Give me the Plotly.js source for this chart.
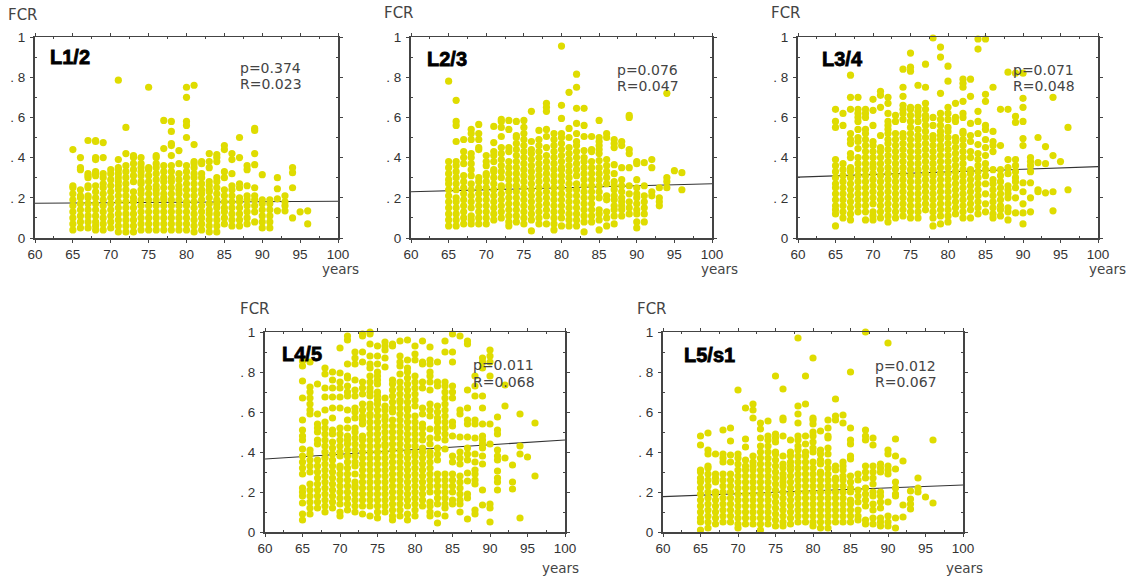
<!DOCTYPE html>
<html><head><meta charset="utf-8">
<script src="https://cdn.plot.ly/plotly-3.0.1.min.js"></script>
<style>html,body{margin:0;padding:0;background:#fff}#c{width:1130px;height:577px}
.annotation-text[data-unformatted^="<b>"]{stroke:#000;stroke-width:.8px}</style>
</head><body><div id="c"></div>
<script>
// FCR values in hundredths, listed per age in years
const L12 = {
65:[4,7,10,13,16,19,22,25,26,44],
66:[5,8,11,14,17,20,21,24,34,35,40],
67:[5,8,11,14,17,20,21,25,26,30,31,32,48.5],
68:[4,6,8,11,14,17,20,23,26,31,32,33,39,40,48,48.5],
69:[4,7,10,13,16,19,22,25,27,30,32,40,47.5],
70:[5,8,11,14,17,20,23,26,29,32,34],
71:[3,6,9,12,15,18,21,24,26,28,30,32,34,35,39,78.5],
72:[3,6,9,12,15,18,21,24,27,30,33,36,42,55],
73:[3,6,9,12,15,18,20,23,28,31,34,37,40,41],
74:[4,7,10,13,16,19,22,24,27,28,31,33,35,37,40],
75:[4,7,10,13,16,19,22,25,28,31,34,35,75],
76:[4,7,10,13,16,19,22,24,26,29,32,35,37,40,41],
77:[4,7,10,13,16,19,20,22,25,28,30,33,36,44.5,58.5],
78:[4,7,10,13,16,19,22,25,28,30,33,36,41,46,47,53,58],
79:[4,7,10,13,16,19,22,24,26,29,32,37,43.5],
80:[4,7,10,13,16,18,21,24,27,30,33,36,50,56,58,70,75],
81:[3,6,9,12,15,18,21,24,27,30,32,35,37,38,46.5,76],
82:[4,7,10,13,16,19,22,24,27,30,32,37,38],
83:[3,6,9,12,14,17,20,23,24,26,28,35,38,42],
84:[3,6,9,12,15,17,19,22,25,28,30,38,40,41.5],
85:[7,10,13,15,18,21,24,30,33,44,46],
86:[6,9,12,15,18,21,24,26,32,39,42],
87:[6,9,12,15,18,20,25,27,40,50],
88:[7,10,13,16,19,21,26,34,36],
89:[8,13,16,19,21,25,36.5,42,53.5,54.5],
90:[5,8,11,14,17,19,31.5],
91:[5,8,11,14,17,19],
92:[13.5,19.5,24.5,30],
93:[13.5,16,18,21],
94:[10,25,32.5,35],
95:[13],
96:[7,13.5]};
const L23 = {
65:[6,9,12,15,18,21,24,27,29,32,35,38,78],
66:[6,9,12,15,18,20,24,27,30,33,36,38,48,56,58,68.5],
67:[7,10,13,16,19,22,25,28,31,37,40,43,49],
68:[7,9,11,15,18,21,24,27,31,34,37,40,42,49,52,54],
69:[7,10,13,16,19,22,25,28,30,44,45,49,52,56.5],
70:[7,10,13,16,19,22,25,28,31,32,36,38,41],
71:[9,12,15,18,21,24,27,30,33,34,38,41,43,47.5,55.5],
72:[10,13,16,19,22,25,26,30,33,36,39,42,45,50.5,55,58,59],
73:[6,8,11,14,17,20,23,26,29,32,35,38,43,45,54,58.5],
74:[8,11,14,17,20,23,26,29,32,35,38,41,44,47,50,51,58],
75:[7,10,13,16,19,22,25,28,31,34,37,40,43,46,49,52,55,58.5],
76:[3.5,9,12,15,18,21,24,27,30,33,36,39,42,44,48,63],
77:[7,10,13,16,19,22,25,28,31,34,37,40,43,46,49,53.5],
78:[7,11,14,17,20,23,26,29,32,35,38,41,45,50.5,54,63,65,67],
79:[4,7,10,13,16,19,22,25,28,31,34,37,40,43,46,49,52],
80:[6,10,13,16,19,22,25,28,31,34,35,38,41,44,47,50,52,59.5,66,95.5],
81:[6,9,12,15,18,21,24,27,30,33,36,39,42,45,50,54.5,72.5],
82:[6,9,12,15,18,21,24,27,31,34,37,40,43,46,48,52,57,64.5,75,81.5],
83:[3,8,11,14,17,20,23,26,29,32,35,38,40,43.5,50.5,56,64.5],
84:[8,11,14,17,20,23,26,29,32,35,38,43,44,50.5],
85:[4,9,12,14,20,23,26,29,32,35,38.5,42,44,46,48,50,58.5],
86:[6,10,13,19,21,27,30,33,36,39,50,52],
87:[7,11,14,16,19,21,24,26,28,32,36.5,45,47,49],
88:[11,14,16,18,20,23,26,29,35,46,48],
89:[12,15,18,22,26,35,42,44,60,61],
90:[5,8,12,14,17,20,22,25,29,37,38],
91:[8,12,15,18,21,26,37.5],
92:[21,23,35,39],
93:[16,18,20,25],
94:[25,28,30,72],
95:[33.5],
96:[24,32.5]};
const L34 = {
65:[6,12,14,16,19,22,25,27,30,33,36,39,55,58,64],
66:[10,13,16,19,22,25,28,31,34,37,56,62],
67:[9,12,15,18,21,24,27,30,33,35,40,42,47,49,52,64,70,81],
68:[13,16,19,22,25,28,31,34,37,40,44.5,48,50,54,58,60,62,64,70],
69:[9,13,16,19,22,25,28,31,34,37,40,43,46,49,52,54,60,62,64],
70:[9,11,13,17,20,23,26,29,32,35,37,40,43,46,48,56,63.5,69],
71:[10,13,16,19,22,25,28,31,34,37,40,43,45,51,65,71,73],
72:[8,11,14,17,20,23,26,29,32,35,38,41,44,47,49,52,54,56,58,62,67,70],
73:[10,13,16,19,22,25,28,31,34,37,40,43,46,49,52,58,61],
74:[11,14,17,20,23,26,29,32,35,38,41,44,47,50,52,59,62,64,66,70.5,75,84],
75:[10,13,16,19,22,25,28,31,34,37,40,43,46,49,52,55,58,61,64,65,83,85,92],
76:[10,13,16,19,22,25,28,31,34,37,40,43,46,49,51,54,58,61,63,65,76],
77:[14,17,20,23,26,29,32,35,38,41,44,47,50,53,56,59,61,64,67,75,86.5],
78:[6,10,13,16,19,22,25,28,31,34,37,40,43,46,49,51,56,60,99.5],
79:[7,11,14,17,20,23,26,29,32,35,38,41,44,46,49,51,53,56,59,62,72,90,95],
80:[8,11,14,17,20,23,26,29,32,35,38,41,44,47,50,53,55,59,62,65,78,85.5],
81:[12,15,18,21,24,27,30,33,36,39,42,45,48,50,58,60,67],
82:[10,13,16,19,22,25,28,31,34,37,40,43,46,49,52,53,60,62,68,75,77,79],
83:[10,14,17,20,23,26,29,32,34,40,43,48,51,57,70.5,79],
84:[12,15,18,21,24,27,30,33,36,39,42,46.5,52,58,63,94,99],
85:[13,17,22,27,31,34,37,41,45,49,54,56,68,71.5,99],
86:[10,12,15,18,21,24,27,29,34,43,46,48,53,75],
87:[11,14,16,19,22,25,28,31,34,46,64],
88:[9,13,15,20,22,24,26,32,35,39,64,82.5],
89:[12.5,20,25,28,30,33,36,39,57.5,60.5,82],
90:[7,12.5,17,23,27.5,46,49.5,58,65,69.5,82],
91:[13,20,27.5,33,36,38,40],
92:[23,24,37.5,50],
93:[22.5,37,45.5],
94:[13.5,23,41,70],
95:[38],
96:[24,55]};
const L45 = {
65:[6,9,14.5,18,20,22,29,32,35,38,41.5,46,48,51,56,67,75.5,83,85.5],
66:[9,12,15,18,21,24,30,33,36,39,41,59,61,64,67,70,72.5,85],
67:[12,15,18,21,24,27,30,33,36,44,46,50,52,54,59,74],
68:[10,13,16,19,22,25,28,31,34,37,40,43,46,49,52,55,61,67.5,72,79,82],
69:[12,15,18,21,24,27,30,33,36,39,42,45,49,51,57,62,67.5,72,76,80],
70:[8,10,14,17,20,23,26,29,32,33,38,40,43,46,49,52,62,67.5,72,75,79.5,92],
71:[11,14,17,20,23,26,29,32,35,38,41,44,46,48,52,56,61,68,70,73,77,78,84,96,98],
72:[10,13,16,19,22,23,25,29,33,35,38,41,44,47,50,52,57,60,62,68,71,76,84,87,90],
73:[9,13,16,19,22,25,28,31,34,37,40,43,46,48,54,56,58,61,64,69,72,75,85,90,98,99],
74:[8,13,16,19,22,25,28,31,34,37,40,43,46,49,52,55,58,59,62,64,68,70,72,75,78,82,84,88,94,99,100],
75:[7,10,13,16,19,22,25,28,31,34,37,40,43,46,49,52,55,58,61,64,66,68,70,74,76,78,80,84,88,93],
76:[10,13,16,19,22,25,28,31,34,37,40,43,44,47,50,53,56,58,61,63,67,82.5,87,91,93,95],
77:[6,8,11,14,17,20,23,26,29,32,35,38,41,44,47,50,53,56,60,62,65,68,71,74,76,93,94],
78:[8,11,14,17,20,23,26,29,32,35,38,41,44,47,50,53,56,59,62,65,66,69,72,75,79,83,85,88,95.5],
79:[6,9,13,16,19,22,25,28,31,34,37,40,43,46,49,52,55,58,61,62,65,68,71,74,77,80,82,86,96],
80:[8,11,14,17,20,23,26,29,32,35,38,40,43,46,49,52,55,58,63,66,69,72,75,78,86,89,93],
81:[13,16,19,22,25,28,31,34,37,40,42,46,49,52,54,59,62,72,75,84,85,95.5],
82:[8,10,13,15,20,23,26,29,32,35,38,40,44,47,51.5,58,61,64,71,75,78,80,84,86,92.5],
83:[4.5,9,14,17,20,23,26,29,36,39,42,47,50,52,55,57,60,63,73,75,85],
84:[8,12,14,17,20,23,26,29,41.5,46,49,52,55,58,61,64,67,70,73,75,90,95.5],
85:[14,16,20,23,26,29,35,38,48,53,55,67,70,73,85,90,99],
86:[10,14,16,19,22,25,28,34,37,40,47.5,59,61,98],
87:[6.5,17,19,25.5,29.5,36,39,42,47.5,54,56,62,71,94,95.5],
88:[9,11,24,26,29,31,35,39,47,54,56,68,73,78],
89:[13.5,21,34,38,42,44,46,48,54,62,68,82,85,87],
90:[5,12,14,44,54,78,85,88,91],
91:[21,25,27,30.5,36,38,41,49,51,57.5],
92:[37,63,73.5],
93:[21.5,25,33.5],
94:[7,39,43,59],
95:[37.5],
96:[28,54.5]};
const L5S1 = {
65:[1,5,7,10,13,16,19,22,25,27,30,31,43.5,48],
66:[2,5,8,11,14,17,20,23,26,29,32,33,39,41,49.5],
67:[4,7,10,13,16,19,20,25,27,29,39],
68:[5,8,11,14,17,20,23,26,29,35,37,39,51],
69:[5,8,11,14,17,20,23,26,29,35,38.5,45.5,52],
70:[2,4,7,10,13,16,19,22,25,28,31,34,37,39,71],
71:[4,7,10,13,16,19,22,25,28,31,33,36,42.5,46.5,62],
72:[4,7,10,13,16,19,22,25,28,31,33,35,38,57,61,64],
73:[1,4,7,10,13,16,19,22,25,28,31,34,37,40,43,47,51.5,54.5],
74:[4,7,10,13,16,19,22,25,28,31,34,37,40,43,46,48,55.5],
75:[3,6,9,12,15,18,21,24,27,30,33,36,39,40,45,47,49,78],
76:[3,5,8,11,14,17,20,23,25,27,29,32,34,38,48,56,57,71.5],
77:[4,7,10,13,16,19,22,25,28,31,33,35,38,40,46],
78:[5,8,11,14,17,20,23,26,29,32,35,38,41,43,46,48,54.5,59,63,97],
79:[5,8,11,14,17,20,23,26,29,32,35,38,40,44,48,64,78],
80:[3,5,8,11,14,17,20,23,26,29,32,35,40,42,45,48,50,54,56,57,87],
81:[2,5,8,11,14,17,20,23,26,29,30,34,36,39,41,50.5],
82:[2,5,8,11,14,17,20,23,26,29,32,35,39,42,47,48,52,56],
83:[5,8,11,14,17,20,23,26,27,31,33,56,58,66.5],
84:[5,8,11,14,17,20,23,26,28,31,33,35,54.5,58.5],
85:[5,8,11,14,16,20,22,25,28,36.5,38,44,46,52,80],
86:[6,8,11,15,18,21,26,29],
87:[4,6,13,16,19,22,27,30,33,46,48,51,100],
88:[4,7,11,14,18,20,24,27,30,33,43.5,47],
89:[3,5,7,12,15,18,20,30,32,34],
90:[3,5,8,15,29,31,33,39,41,94.5],
91:[2,7,18,19,22,25,31.5,38,46.5],
92:[7.5,13.5,35.5],
93:[11.5,14,16.5,20.5],
94:[20,22,27],
95:[17.5],
96:[14.5,46]};
const panelNames = ['L1/2','L2/3','L3/4','L4/5','L5/s1'];
const pValues = ['p=0.374','p=0.076','p=0.071','p=0.011','p=0.012'];
const rValues = ['R=0.023','R=0.047','R=0.048','R=0.068','R=0.067'];
const trendYears = [60,100];
const trendStart = [0.173,0.23,0.303,0.365,0.177];
const trendEnd = [0.183,0.27,0.355,0.46,0.235];
const panelData = [L12,L23,L34,L45,L5S1];
const xTickVals = [60,65,70,75,80,85,90,95,100];
const yTickVals = [0,0.2,0.4,0.6,0.8,1];
const yTickText = ['0','. 2','. 4','. 6','. 8','1'];
// pixel boxes: left,right,top,bottom; then label anchors
const boxes = [[35,338,37,238],[411,712,37,238],[798,1098,37,238],[265,565,332,532],[663,963,332,532]];
const fcrPos = [[8,15],[384,13],[771,13],[240,309],[637,309]];
const namePos = [[50,57],[427,59],[822,59],[282,354],[684,355]];
const statPos = [[240,68,84],[617,70,86],[1013,70,86],[473,365,382],[875,366,382]];
const yearsPos = [[322,269],[701,269],[1089,269],[542,568],[946,568]];
const W=1130,H=577;
const traces=[],annotations=[];
const layout={width:W,height:H,margin:{l:0,r:0,t:0,b:0},paper_bgcolor:'#fff',plot_bgcolor:'#fff',showlegend:false,
  font:{family:'Liberation Sans, Arial, sans-serif',color:'#333'},annotations};
function note(px,py,text,size,fam,col){annotations.push({xref:'paper',yref:'paper',x:px/W,y:1-py/H,xanchor:'left',yanchor:'middle',
  text,showarrow:false,font:{size,family:fam,color:col||'#444'},borderpad:0,borderwidth:0});}
panelData.forEach((d,i)=>{
  const n=i+1,b=boxes[i],xs=[],ys=[];
  Object.keys(d).forEach(k=>d[k].forEach(v=>{xs.push(+k);ys.push(v/100);}));
  const xa=n===1?'x':'x'+n, ya=n===1?'y':'y'+n;
  traces.push({x:trendYears,y:[trendStart[i],trendEnd[i]],xaxis:xa,yaxis:ya,type:'scatter',mode:'lines',line:{color:'#333',width:1.1},hoverinfo:'skip'});
  traces.push({x:xs,y:ys,xaxis:xa,yaxis:ya,type:'scatter',mode:'markers',cliponaxis:false,marker:{size:7.2,color:'#dfdc00',line:{width:0}}});
  layout['xaxis'+(n===1?'':n)]={domain:[b[0]/W,b[1]/W],range:[60,100],anchor:ya,tickvals:xTickVals,ticks:'outside',ticklen:3,tickwidth:1,tickcolor:'#444',
    showgrid:false,zeroline:false,showline:true,linecolor:'#444',linewidth:1.5,mirror:'ticks',tickfont:{size:13.5,color:'#333'},
    minor:{tickvals:[62.5,67.5,72.5,77.5,82.5,87.5,92.5,97.5],ticks:'inside',ticklen:2,tickcolor:'#444',showgrid:false}};
  layout['yaxis'+(n===1?'':n)]={domain:[1-b[3]/H,1-b[2]/H],range:[0,1],anchor:xa,tickvals:yTickVals,ticktext:yTickText,ticks:'outside',ticklen:3,tickwidth:1,tickcolor:'#444',ticklabelstandoff:2,
    showgrid:false,zeroline:false,showline:true,linecolor:'#444',linewidth:2,mirror:'ticks',tickfont:{size:13.5,color:'#333'},
    minor:{tickvals:[0.1,0.3,0.5,0.7,0.9],ticks:'inside',ticklen:2,tickcolor:'#444',showgrid:false}};
  const dj='DejaVu Sans, sans-serif';
  note(fcrPos[i][0],fcrPos[i][1],'FCR',15,dj);
  note(namePos[i][0],namePos[i][1],'<b>'+panelNames[i]+'</b>',20,'Liberation Sans, Arial, sans-serif','#000');
  note(statPos[i][0],statPos[i][1],pValues[i],14,dj);
  note(statPos[i][0],statPos[i][2],rValues[i],14,dj);
  note(yearsPos[i][0],yearsPos[i][1],'years',13.5,dj);
});
Plotly.newPlot('c',traces,layout,{staticPlot:true,displayModeBar:false});
</script></body></html>
